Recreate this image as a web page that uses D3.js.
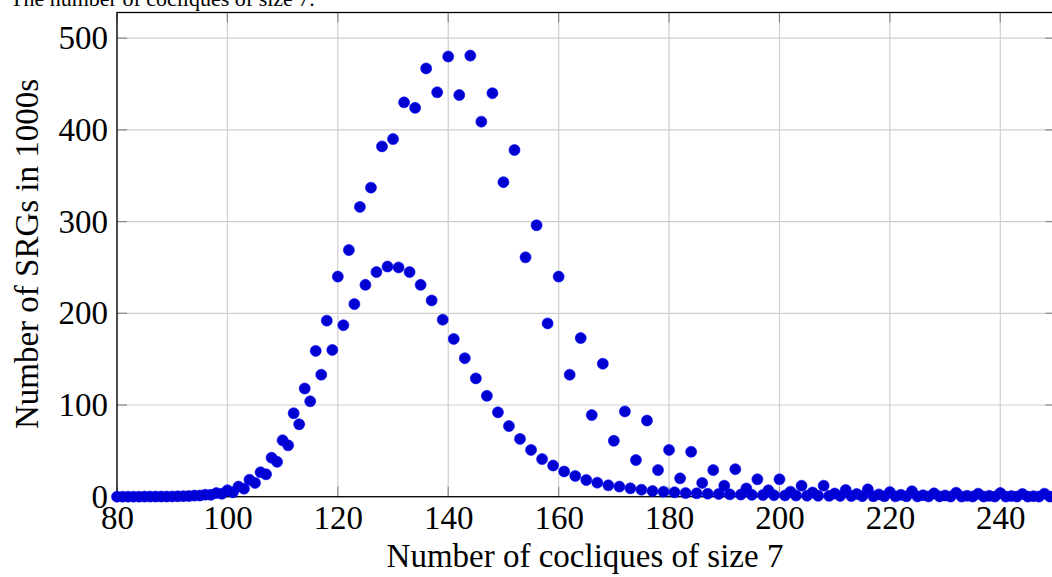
<!DOCTYPE html>
<head>
  <meta charset="utf-8">
  <script src="https://d3js.org/d3.v7.min.js"></script>
  <style>
    body { margin:0; background:#fff; overflow:hidden; }
    svg { display:block; font-family:"Liberation Serif", "DejaVu Serif", serif; }
  </style>
</head>

<body>
  <svg width="1052" height="577"></svg>
  <script>
    // number of cocliques of size 7 (x) and number of SRGs in thousands (y)
    var cocliques = [
       80, 81, 82, 83, 84, 85, 86, 87, 88, 89, 90, 91, 92, 93, 94, 95, 96, 97, 98, 99,
      100,101,102,103,104,105,106,107,108,109,110,111,112,113,114,115,116,117,118,119,
      120,121,122,123,124,125,126,127,128,129,130,131,132,133,134,135,136,137,138,139,
      140,141,142,143,144,145,146,147,148,149,150,151,152,153,154,155,156,157,158,159,
      160,161,162,163,164,165,166,167,168,169,170,171,172,173,174,175,176,177,178,179,
      180,181,182,183,184,185,186,187,188,189,190,191,192,193,194,195,196,197,198,199,
      200,201,202,203,204,205,206,207,208,209,210,211,212,213,214,215,216,217,218,219,
      220,221,222,223,224,225,226,227,228,229,230,231,232,233,234,235,236,237,238,239,
      240,241,242,243,244,245,246,247,248,249,250
    ];
    var srgs = [
      0, 0, 0, 0, 0, 0.1, 0.1, 0.1, 0.2, 0.2, 0.3, 0.4, 0.6, 0.7, 1.2, 1.3, 2.2, 2.0, 4.0, 3.2,
      7.0, 4.8, 11, 8.7, 18.5, 15, 26.6, 24.4, 42.5, 38, 61.5, 56, 91, 79, 118, 104, 159, 133, 192, 160,
      240, 187, 269, 210, 316, 231, 337, 245, 382, 251, 390, 250, 430, 245, 424, 231, 467, 214, 441, 193,
      480, 172, 438, 151, 481, 129, 409, 110, 440, 92, 343, 77, 378, 63, 261, 51, 296, 41, 189, 34,
      240, 27.5, 133, 22.6, 173, 18.2, 89, 15.3, 145, 12.4, 61, 11, 93, 9.1, 40, 7.6, 83, 6.2, 29, 5.5,
      51, 4.8, 20, 4, 49, 3.7, 15, 3.3, 29, 3, 12, 2.6, 30, 2.3, 9, 2, 19, 1.8, 7, 1.6,
      19, 1.4, 5.5, 1.2, 12, 1.1, 4.6, 1, 12, 0.9, 3.5, 0.8, 7.3, 0.7, 3, 0.6, 8, 0.5, 2.5, 0.5,
      5, 0.4, 2, 0.4, 6, 0.3, 1.6, 0.3, 3.7, 0.3, 1.3, 0.2, 4.4, 0.2, 1, 0.2, 3.3, 0.2, 0.9, 0.1,
      4, 0.1, 0.7, 0.1, 3, 0.1, 0.6, 0.1, 3.3, 0.1, 0.5
    ];
    var xTicks = [80, 100, 120, 140, 160, 180, 200, 220, 240];
    var yTicks = [0, 100, 200, 300, 400, 500];

    var titleText = 'The number of cocliques of size 7.';
    var xLabel = 'Number of cocliques of size 7';
    var yLabel = 'Number of SRGs in 1000s';

    var plot = {left: 117, right: 1055.5, top: 12.5, bottom: 496.7};

    var xScale = d3.scaleLinear().domain([80, 250]).range([plot.left, plot.right]);
    var yScale = d3.scaleLinear().domain([0, 528]).range([plot.bottom, plot.top]);

    var svg = d3.select('svg');

    // title (cut off at the top)
    svg.append('text')
      .attr('x', 10).attr('y', 6)
      .attr('font-size', 22)
      .text(titleText);

    // grid
    svg.append('g').selectAll('line')
      .data(xTicks)
      .enter().append('line')
      .attr('x1', d => xScale(d)).attr('x2', d => xScale(d))
      .attr('y1', plot.top).attr('y2', plot.bottom)
      .attr('stroke', '#cfcfcf').attr('stroke-width', 1.2);
    svg.append('g').selectAll('line')
      .data(yTicks)
      .enter().append('line')
      .attr('x1', plot.left).attr('x2', plot.right)
      .attr('y1', d => yScale(d)).attr('y2', d => yScale(d))
      .attr('stroke', '#cfcfcf').attr('stroke-width', 1.2);

    // inner tick marks
    var tickLen = 10;
    var ticks = svg.append('g').attr('stroke', '#8a8a8a').attr('stroke-width', 1.2);
    xTicks.forEach(t => {
      ticks.append('line').attr('x1', xScale(t)).attr('x2', xScale(t))
        .attr('y1', plot.bottom).attr('y2', plot.bottom - tickLen);
      ticks.append('line').attr('x1', xScale(t)).attr('x2', xScale(t))
        .attr('y1', plot.top).attr('y2', plot.top + tickLen);
    });
    yTicks.forEach(t => {
      ticks.append('line').attr('x1', plot.left).attr('x2', plot.left + tickLen)
        .attr('y1', yScale(t)).attr('y2', yScale(t));
      ticks.append('line').attr('x1', plot.right).attr('x2', plot.right - tickLen)
        .attr('y1', yScale(t)).attr('y2', yScale(t));
    });

    // frame
    svg.append('rect')
      .attr('x', plot.left).attr('y', plot.top)
      .attr('width', plot.right - plot.left).attr('height', plot.bottom - plot.top)
      .attr('fill', 'none').attr('stroke', '#000').attr('stroke-width', 1.3);

    // tick labels
    var xAxis = d3.axisBottom(xScale).tickValues(xTicks).tickSize(0).tickPadding(9);
    var gx = svg.append('g')
      .attr('transform', 'translate(' + [0, plot.bottom] + ')')
      .call(xAxis);
    var yAxis = d3.axisLeft(yScale).tickValues(yTicks).tickSize(0).tickPadding(9);
    var gy = svg.append('g')
      .attr('transform', 'translate(' + [plot.left, 0] + ')')
      .call(yAxis);
    [gx, gy].forEach(g => {
      g.select('.domain').remove();
      g.selectAll('text')
        .attr('font-family', '"Liberation Serif", serif')
        .attr('font-size', 33)
        .attr('fill', '#000');
    });

    // axis titles
    svg.append('text')
      .attr('x', 585).attr('y', 567)
      .attr('text-anchor', 'middle')
      .attr('font-size', 33)
      .text(xLabel);
    svg.append('text')
      .attr('transform', 'translate(38,' + 254 + ') rotate(-90)')
      .attr('text-anchor', 'middle')
      .attr('font-size', 33)
      .text(yLabel);

    // points
    svg.append('g').selectAll('circle')
      .data(cocliques)
      .enter().append('circle')
      .attr('cx', d => xScale(d))
      .attr('cy', (d, i) => yScale(srgs[i]))
      .attr('r', 5.5)
      .attr('fill', '#0000d0')
      .attr('stroke', '#0000ff')
      .attr('stroke-width', 0.6);
  </script>
</body>
